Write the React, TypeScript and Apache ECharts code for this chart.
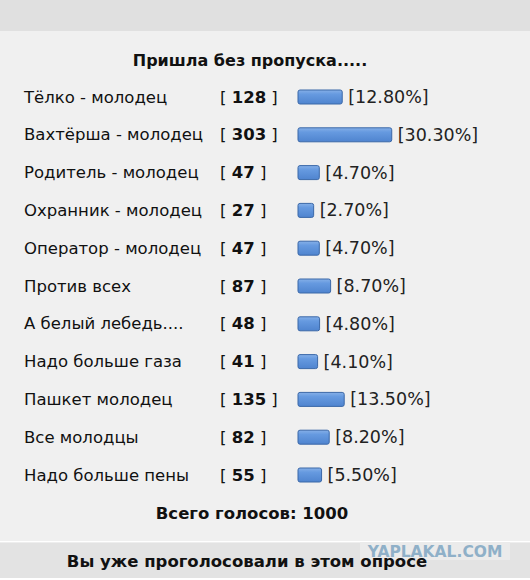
import React, { useEffect, useRef } from "react";
import * as echarts from "echarts";

const title = "Пришла без пропуска.....";
const options = [
  "Тёлко - молодец",
  "Вахтёрша - молодец",
  "Родитель - молодец",
  "Охранник - молодец",
  "Оператор - молодец",
  "Против всех",
  "А белый лебедь....",
  "Надо больше газа",
  "Пашкет молодец",
  "Все молодцы",
  "Надо больше пены",
];
const votes = [128, 303, 47, 27, 47, 87, 48, 41, 135, 82, 55];
const percents = [12.8, 30.3, 4.7, 2.7, 4.7, 8.7, 4.8, 4.1, 13.5, 8.2, 5.5];
const totalLabel = "Всего голосов: 1000";
const footerLabel = "Вы уже проголосовали в этом опросе";
const watermark = "YAPLAKAL.COM";

const FONT = "DejaVu Sans, Verdana, sans-serif";

export default function App() {
  const ref = useRef<HTMLDivElement>(null);
  useEffect(() => {
    if (!ref.current) return;
    const chart = echarts.init(ref.current, null, { renderer: "svg" });
    const data = options.map((name, i) => [percents[i], i, votes[i], name]);
    chart.setOption({
      animation: false,
      backgroundColor: "#f0f0f0",
      grid: { left: 306, top: 78.1, width: 141.5, height: 415.8 },
      xAxis: { type: "value", min: 0, max: 50, show: false },
      yAxis: {
        type: "category",
        data: options,
        inverse: true,
        show: false,
      },
      graphic: [
        { type: "rect", shape: { x: 0, y: 0, width: 530, height: 31 }, style: { fill: "#e0e0e0" }, z: 0 },
        { type: "rect", shape: { x: 0, y: 541, width: 530, height: 1.5 }, style: { fill: "#ffffff" }, z: 0 },
        { type: "rect", shape: { x: 0, y: 542.5, width: 530, height: 35.5 }, style: { fill: "#e3e3e3" }, z: 0 },
        { type: "rect", shape: { x: 0, y: 578, width: 530, height: 2 }, style: { fill: "#ffffff" }, z: 0 },
        {
          type: "text",
          x: 250,
          y: 60,
          style: { text: title, font: `bold 16px ${FONT}`, fill: "#111", align: "center", verticalAlign: "middle" },
        },
        {
          type: "text",
          x: 252,
          y: 513,
          style: { text: totalLabel, font: `bold 16.5px ${FONT}`, fill: "#111", align: "center", verticalAlign: "middle" },
        },
        { type: "rect", shape: { x: 360, y: 542, width: 150, height: 18 }, style: { fill: "#ebebeb" }, z: 1 },
        {
          type: "text",
          x: 435,
          y: 551.5,
          z: 3,
          style: { text: watermark, font: `bold 15.5px ${FONT}`, fill: "#8fb0c8", align: "center", verticalAlign: "middle" },
        },
        {
          type: "text",
          x: 247,
          y: 561,
          z: 2,
          style: { text: footerLabel, font: `bold 16.5px ${FONT}`, fill: "#111", align: "center", verticalAlign: "middle" },
        },
      ],
      series: [
        {
          type: "custom",
          data,
          encode: { x: 0, y: 1 },
          renderItem: (params: any, api: any) => {
            const p = api.value(0);
            const idx = api.value(1);
            const start = api.coord([0, idx]);
            const end = api.coord([p, idx]);
            const cy = start[1];
            const x0 = start[0] - 8;
            const x1 = end[0];
            const h = 14;
            return {
              type: "group",
              children: [
                {
                  type: "text",
                  x: 24,
                  y: cy,
                  style: { text: options[idx], font: `16.5px ${FONT}`, fill: "#111", verticalAlign: "middle" },
                },
                {
                  type: "text",
                  x: 220,
                  y: cy,
                  style: {
                    text: `{n|[ }{b|${votes[idx]}}{n| ]}`,
                    verticalAlign: "middle",
                    rich: {
                      n: { font: `16.5px ${FONT}`, fill: "#111" },
                      b: { font: `bold 16.5px ${FONT}`, fill: "#111" },
                    },
                  },
                },
                {
                  type: "rect",
                  shape: { x: x0, y: cy - h / 2, width: x1 - x0, height: h, r: 2 },
                  style: {
                    fill: new echarts.graphic.LinearGradient(0, 0, 0, 1, [
                      { offset: 0, color: "#86b0e8" },
                      { offset: 0.3, color: "#669ae0" },
                      { offset: 1, color: "#4f84cf" },
                    ]),
                    stroke: "#3b68a8",
                    lineWidth: 1,
                  },
                },
                {
                  type: "text",
                  x: x1 + 6,
                  y: cy,
                  style: {
                    text: `[${percents[idx].toFixed(2)}%]`,
                    font: `17.5px ${FONT}`,
                    fill: "#222",
                    verticalAlign: "middle",
                  },
                },
              ],
            };
          },
        },
      ],
    });
    return () => chart.dispose();
  }, []);
  return (
    <div
      ref={ref}
      style={{ position: "absolute", left: 0, top: 0, width: 530, height: 580 }}
    />
  );
}
